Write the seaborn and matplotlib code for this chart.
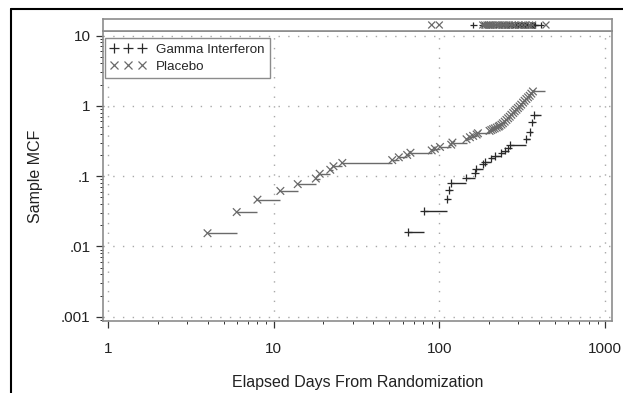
import numpy as np
import pandas as pd
import matplotlib
matplotlib.use("Agg")
import matplotlib.pyplot as plt
import matplotlib.ticker as mticker
from matplotlib.lines import Line2D
import seaborn as sns

# ---- data ----
placebo_t = [4, 6, 8, 11, 14, 18, 19, 22, 23, 26, 52, 57, 64, 67, 90, 94, 101, 118, 120,
             146, 153, 160, 168, 171, 201, 206, 211, 216, 222, 228, 231, 237, 242, 248, 254,
             260, 266, 272, 279, 285, 292, 298, 305, 312, 320, 327, 335, 343, 351, 359, 367]
placebo_mcf = [0.0154, 0.0308, 0.0462, 0.0615, 0.0769, 0.0923, 0.108, 0.123, 0.138, 0.154,
               0.169, 0.185, 0.200, 0.215, 0.232, 0.245, 0.260, 0.280, 0.300,
               0.334, 0.357, 0.373, 0.39, 0.407, 0.44, 0.452, 0.465, 0.477, 0.49, 0.505, 0.52,
               0.54, 0.565, 0.595, 0.63, 0.665, 0.70, 0.745, 0.79, 0.835, 0.88, 0.93, 0.98,
               1.04, 1.11, 1.18, 1.25, 1.32, 1.39, 1.49, 1.60]
placebo_end = 432

gamma_t = [65, 81, 112, 114, 117, 145, 164, 167, 184, 188, 206, 216, 237, 250, 260, 266,
           335, 350, 362, 371]
gamma_mcf = [0.0159, 0.0317, 0.0476, 0.063, 0.080, 0.095, 0.111, 0.128, 0.148, 0.160,
             0.179, 0.193, 0.211, 0.23, 0.247, 0.277, 0.334, 0.42, 0.58, 0.74]
gamma_end = 410

gamma_cens = [160, 182, 190, 196, 200, 205, 212, 220, 228, 235, 240, 245, 250, 255, 260, 265,
              270, 275, 280, 285, 290, 295, 300, 305, 310, 315, 320, 325, 330, 335, 340, 345,
              350, 355, 360, 365, 370, 375, 380, 410]
placebo_cens = [90, 100, 183, 188, 194, 199, 204, 210, 218, 225, 232, 240, 248, 256, 265,
                275, 285, 300, 315, 330, 350, 365, 440]

x_ticks = [1, 10, 100, 1000]
x_tick_labels = ["1", "10", "100", "1000"]
y_ticks = [0.001, 0.01, 0.1, 1, 10]
y_tick_labels = [".001", ".01", ".1", "1", "10"]

group_names = ["Gamma Interferon", "Placebo"]

# ---- style ----
sns.set_style("white")
plt.rcParams["font.family"] = ["Liberation Sans", "DejaVu Sans"]

W, H = 623, 393
fig = plt.figure(figsize=(W / 100, H / 100), dpi=100)

L, R, T, B, ST = 103, 612, 31, 321, 19
ax = fig.add_axes([L / W, 1 - B / H, (R - L) / W, (B - T) / H])
axs = fig.add_axes([L / W, 1 - T / H, (R - L) / W, (T - ST) / H], sharex=ax)

c_gam = "#2a2a2a"
c_pla = "#6a6a6a"
c_frame = "#8c8c8c"

events = pd.concat([
    pd.DataFrame({"t": gamma_t, "mcf": gamma_mcf, "group": group_names[0]}),
    pd.DataFrame({"t": placebo_t, "mcf": placebo_mcf, "group": group_names[1]}),
], ignore_index=True)

# step segments (horizontal only)
for g, ts, ms, tend, col in [(group_names[0], gamma_t, gamma_mcf, gamma_end, c_gam),
                             (group_names[1], placebo_t, placebo_mcf, placebo_end, c_pla)]:
    nxt = list(ts[1:]) + [tend]
    ax.hlines(ms, ts, nxt, colors=col, linewidth=1.0, zorder=2)

sns.scatterplot(data=events, x="t", y="mcf", hue="group", style="group",
                markers={group_names[0]: "+", group_names[1]: "x"},
                palette={group_names[0]: c_gam, group_names[1]: c_pla},
                s=30, linewidth=0.9, ax=ax, legend=False, zorder=3)

ax.set_xscale("log")
ax.set_yscale("log")
ax.set_xlim(10 ** (-4.7 / 165.8), 10 ** ((R - 107.7) / 165.8))
ax.set_ylim(10 ** (-3 - 4.3 / 70.3), 10 ** (1 + 4.5 / 70.3))

ax.set_xticks(x_ticks)
ax.set_xticklabels(x_tick_labels)
ax.set_yticks(y_ticks)
ax.set_yticklabels(y_tick_labels)
ax.xaxis.set_minor_locator(mticker.LogLocator(base=10, subs=np.arange(2, 10)))
ax.yaxis.set_minor_locator(mticker.LogLocator(base=10, subs=np.arange(2, 10)))
ax.xaxis.set_minor_formatter(mticker.NullFormatter())
ax.yaxis.set_minor_formatter(mticker.NullFormatter())
ax.tick_params(axis="both", which="both", bottom=True, left=True, top=False, right=False)
ax.tick_params(axis="both", which="major", direction="out", length=5, width=0.9,
               color="#333333", labelsize=11, labelcolor="#222222", pad=4)
ax.tick_params(axis="both", which="minor", direction="out", length=2.5, width=0.7,
               color="#333333")
ax.tick_params(axis="x", which="major", pad=10)
ax.grid(True, which="major", color="#a8a8a8", linestyle=(0, (1, 6)), linewidth=1.0)
ax.grid(False, which="minor")
for s in ax.spines.values():
    s.set_color(c_frame)
    s.set_linewidth(1.2)

ax.set_xlabel("Elapsed Days From Randomization", fontsize=11.5, color="#222222", labelpad=14)
ax.set_ylabel("Sample MCF", fontsize=11.5, color="#222222", labelpad=13)

# legend
handles = [Line2D([], [], linestyle="none", marker="+", color=c_gam, markersize=6.5, mew=0.9),
           Line2D([], [], linestyle="none", marker="x", color=c_pla, markersize=5.5, mew=0.9)]
leg = ax.legend(handles, group_names, loc="upper left", bbox_to_anchor=(0.004, 0.976),
                borderaxespad=0, numpoints=3, fontsize=9.6, frameon=True, fancybox=False,
                framealpha=1, edgecolor=c_frame, handlelength=2.65, handletextpad=0.75,
                labelspacing=0.35, borderpad=0.4)
leg.get_frame().set_linewidth(1.0)

# censor strip
cens = pd.concat([
    pd.DataFrame({"t": gamma_cens, "y": 0.5, "group": group_names[0]}),
    pd.DataFrame({"t": placebo_cens, "y": 0.5, "group": group_names[1]}),
], ignore_index=True)
sns.scatterplot(data=cens, x="t", y="y", hue="group", style="group",
                markers={group_names[0]: "+", group_names[1]: "x"},
                palette={group_names[0]: c_gam, group_names[1]: c_pla},
                s=25, linewidth=0.9, ax=axs, legend=False)
axs.set_ylim(0, 1)
axs.set_xlabel("")
axs.set_ylabel("")
axs.tick_params(axis="both", which="both", bottom=False, left=False, top=False, right=False,
                labelbottom=False, labelleft=False)
for s in axs.spines.values():
    s.set_color(c_frame)
    s.set_linewidth(1.2)

# outer page border lines (left and top)
fig.add_artist(Line2D([11 / W, 11 / W], [0, 1 - 9 / H], color="black", linewidth=1.5,
                      transform=fig.transFigure))
fig.add_artist(Line2D([11 / W, 1], [1 - 9 / H, 1 - 9 / H], color="black", linewidth=1.5,
                      transform=fig.transFigure))

fig.savefig("out.png", dpi=100, facecolor="white")
